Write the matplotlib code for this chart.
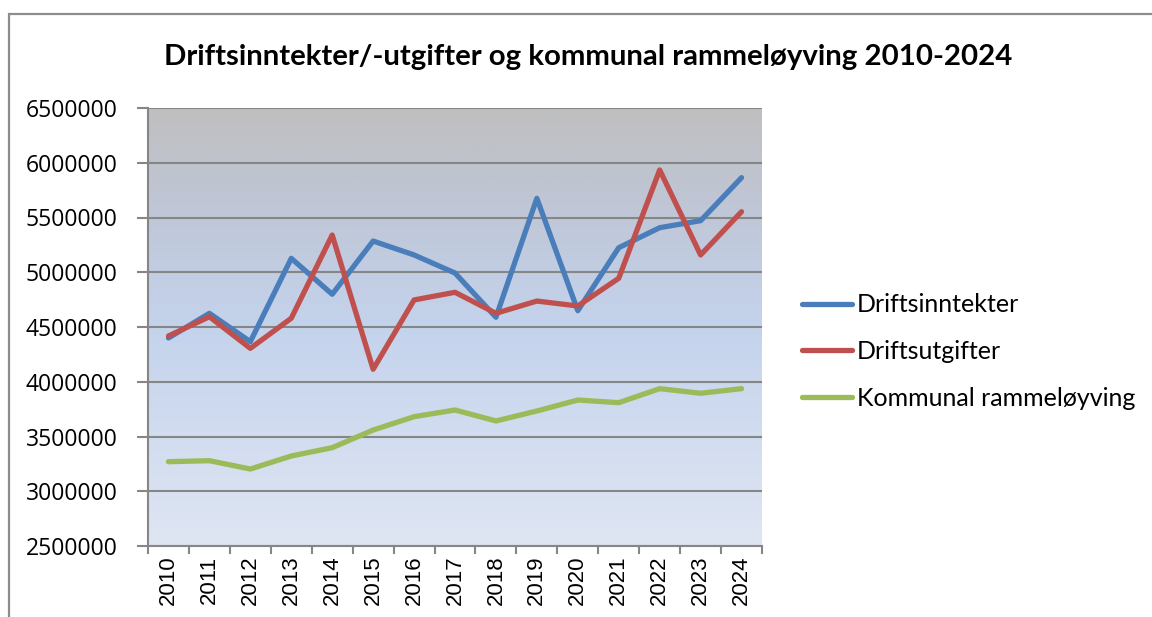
import numpy as np
import matplotlib.pyplot as plt
from matplotlib.colors import LinearSegmentedColormap
from matplotlib.patches import Rectangle

years = ['2010', '2011', '2012', '2013', '2014', '2015', '2016', '2017',
         '2018', '2019', '2020', '2021', '2022', '2023', '2024']
inntekter = [4400000, 4625000, 4366000, 5127000, 4799000, 5285000, 5158000, 4993000,
             4589000, 5675000, 4649000, 5224000, 5407000, 5471000, 5864000]
utgifter = [4418000, 4594000, 4305000, 4580000, 5340000, 4114000, 4747000, 4817000,
            4625000, 4737000, 4692000, 4945000, 5934000, 5158000, 5553000]
ramme = [3270000, 3279000, 3203000, 3322000, 3398000, 3559000, 3681000, 3742000,
         3642000, 3733000, 3833000, 3809000, 3937000, 3895000, 3937000]
series_names = ['Driftsinntekter', 'Driftsutgifter', 'Kommunal rammeløyving']
y_ticks = np.arange(2500000, 6500001, 500000)

fig = plt.figure(figsize=(11.52, 6.17), dpi=100)
fig.patches.append(Rectangle((9 / 1152, -0.1), 1.2, 1.1 - 14 / 617, transform=fig.transFigure,
                             fill=False, edgecolor='#8c8c8c', linewidth=1.6))
ax = fig.add_axes([148 / 1152, 1 - 546 / 617, 614 / 1152, 438 / 617])

# gradient background, grey at the top fading to light blue
cmap = LinearSegmentedColormap.from_list('bg', [(0.0, '#dfe6f3'), (0.5, '#c4d3ec'),
                                                (0.78, '#bfc6d6'), (1.0, '#bfbfbf')])
grad = np.linspace(0, 1, 256).reshape(-1, 1)
ax.imshow(grad, cmap=cmap, aspect='auto', origin='lower',
          extent=(-0.5, 14.5, 2500000, 6500000), zorder=0)

x = np.arange(len(years))
ax.plot(x, inntekter, color='#4a7ebb', lw=3.8, solid_capstyle='round', label=series_names[0], zorder=3)
ax.plot(x, utgifter, color='#c0504d', lw=3.8, solid_capstyle='round', label=series_names[1], zorder=3)
ax.plot(x, ramme, color='#9bbb59', lw=3.8, solid_capstyle='round', label=series_names[2], zorder=3)

ax.set_xlim(-0.5, 14.5)
ax.set_ylim(2500000, 6500000)
ax.set_yticks(y_ticks)
ax.set_yticklabels([str(v) for v in y_ticks], fontfamily='Open Sans', fontsize=16.5)
ax.yaxis.grid(True, color='#868686', lw=1.5, zorder=1)
ax.set_xticks(x)
ax.set_xticklabels(years, rotation=90, fontfamily='Liberation Sans', fontsize=16)
ax.tick_params(axis='x', length=0, pad=7)
ax.set_xticks(np.arange(-0.5, 15, 1), minor=True)
ax.tick_params(axis='x', which='minor', length=6, color='#868686', width=1.5)
ax.tick_params(axis='y', length=8, color='#868686', width=1.5, pad=14)
for side in ['top', 'right']:
    ax.spines[side].set_visible(False)
for side in ['left', 'bottom']:
    ax.spines[side].set_color('#868686')
    ax.spines[side].set_linewidth(1.5)

fig.text(588 / 1152, 1 - 57 / 617, 'Driftsinntekter/-utgifter og kommunal rammeløyving 2010-2024',
         ha='center', va='center', fontfamily='Lato', fontweight='bold', fontsize=21.2)

leg = ax.legend(loc='center left', bbox_to_anchor=(1.049, 0.444), frameon=False,
                prop={'family': 'Lato', 'size': 18}, handlelength=2.0,
                handletextpad=0.2, labelspacing=0.95, borderaxespad=0)

fig.savefig('out.png', dpi=100)
